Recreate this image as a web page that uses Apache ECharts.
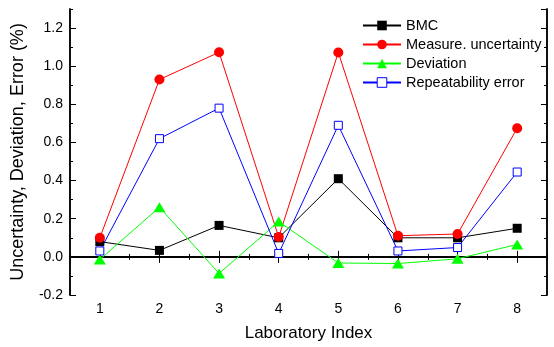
<!DOCTYPE html>
<html><head><meta charset="utf-8">
<script src="https://cdn.jsdelivr.net/npm/echarts@6/dist/echarts.min.js"></script>
<style>html,body{margin:0;padding:0;background:#fff}#c{width:554px;height:347px}</style>
</head><body><div id="c"></div>
<script>
const categories = ['1','2','3','4','5','6','7','8'];
const bmc = [0.08, 0.034, 0.165, 0.10, 0.41, 0.10, 0.10, 0.15];
const measureUncertainty = [0.10, 0.93, 1.073, 0.104, 1.072, 0.111, 0.12, 0.675];
const deviation = [-0.014, 0.26, -0.087, 0.185, -0.032, -0.035, -0.01, 0.065];
const repeatability = [0.031, 0.62, 0.78, 0.018, 0.69, 0.031, 0.049, 0.445];
const seriesNames = ['BMC', 'Measure. uncertainty', 'Deviation', 'Repeatability error'];
const xName = 'Laboratory Index';
const yName = 'Uncertainty, Deviation, Error (%)';

const FONT = '"Liberation Sans", Arial, sans-serif';
const chart = echarts.init(document.getElementById('c'));
const axLine = {show: true, lineStyle: {color: '#000', width: 1.5}};
function xAx(pos, major, labels) {
  return {
    type: 'category', data: categories, position: pos, boundaryGap: true,
    axisLine: axLine,
    axisTick: {show: true, inside: true, alignWithLabel: major, length: major ? 6 : 3, lineStyle: {color: '#000', width: 1}},
    axisLabel: labels ? {show: true, color: '#000', fontSize: 14, fontFamily: FONT, margin: 7} : {show: false},
    splitLine: {show: false},
    name: labels ? xName : '', nameLocation: 'middle', nameGap: 30,
    nameTextStyle: {color: '#000', fontSize: 17, fontFamily: FONT}
  };
}
function yAx(pos, interval, labels) {
  return {
    type: 'value', min: -0.2, max: 1.3, interval: interval, position: pos,
    axisLine: axLine,
    axisTick: {show: true, inside: true, length: interval === 0.2 ? 6 : 3, lineStyle: {color: '#000', width: 1}},
    axisLabel: labels ? {show: true, color: '#000', fontSize: 14, fontFamily: FONT, margin: 7, showMaxLabel: false,
      formatter: v => v.toFixed(1)} : {show: false},
    splitLine: {show: false},
    name: labels ? yName : '', nameLocation: 'middle', nameGap: 43, nameRotate: 90,
    nameTextStyle: {color: '#000', fontSize: 18, fontFamily: FONT}
  };
}
chart.setOption({
  animation: false,
  grid: {left: 70, right: 7, top: 9, bottom: 51, containLabel: false},
  xAxis: [xAx('bottom', true, true), xAx('bottom', false, false), xAx('top', true, false), xAx('top', false, false)],
  yAxis: [yAx('left', 0.2, true), yAx('left', 0.1, false), yAx('right', 0.2, false), yAx('right', 0.1, false)],
  legend: {
    orient: 'vertical', left: 357, top: 13, itemWidth: 38, itemHeight: 12, itemGap: 4,
    textStyle: {color: '#000', fontSize: 14.5, fontFamily: FONT},
    data: [seriesNames[0], seriesNames[1], seriesNames[2],
      {name: seriesNames[3], itemStyle: {borderWidth: 1, borderColor: '#0000ff', color: '#ffffff'}}]
  },
  series: [
    {name: seriesNames[0], type: 'line', data: bmc, symbol: 'rect', symbolSize: 9,
      itemStyle: {color: '#000'}, lineStyle: {color: '#000', width: 1}},
    {name: seriesNames[1], type: 'line', data: measureUncertainty, symbol: 'circle', symbolSize: 10,
      itemStyle: {color: '#ff0000'}, lineStyle: {color: '#ff0000', width: 1}},
    {name: seriesNames[2], type: 'line', data: deviation, symbol: 'triangle', symbolSize: [12, 10],
      itemStyle: {color: '#00ff00'}, lineStyle: {color: '#00ff00', width: 1}},
    {name: seriesNames[3], type: 'line', data: repeatability, symbol: 'rect', symbolSize: 8,
      itemStyle: {color: '#ffffff', borderColor: '#0000ff', borderWidth: 1}, lineStyle: {color: '#0000ff', width: 1}}
  ]
});
</script></body></html>
